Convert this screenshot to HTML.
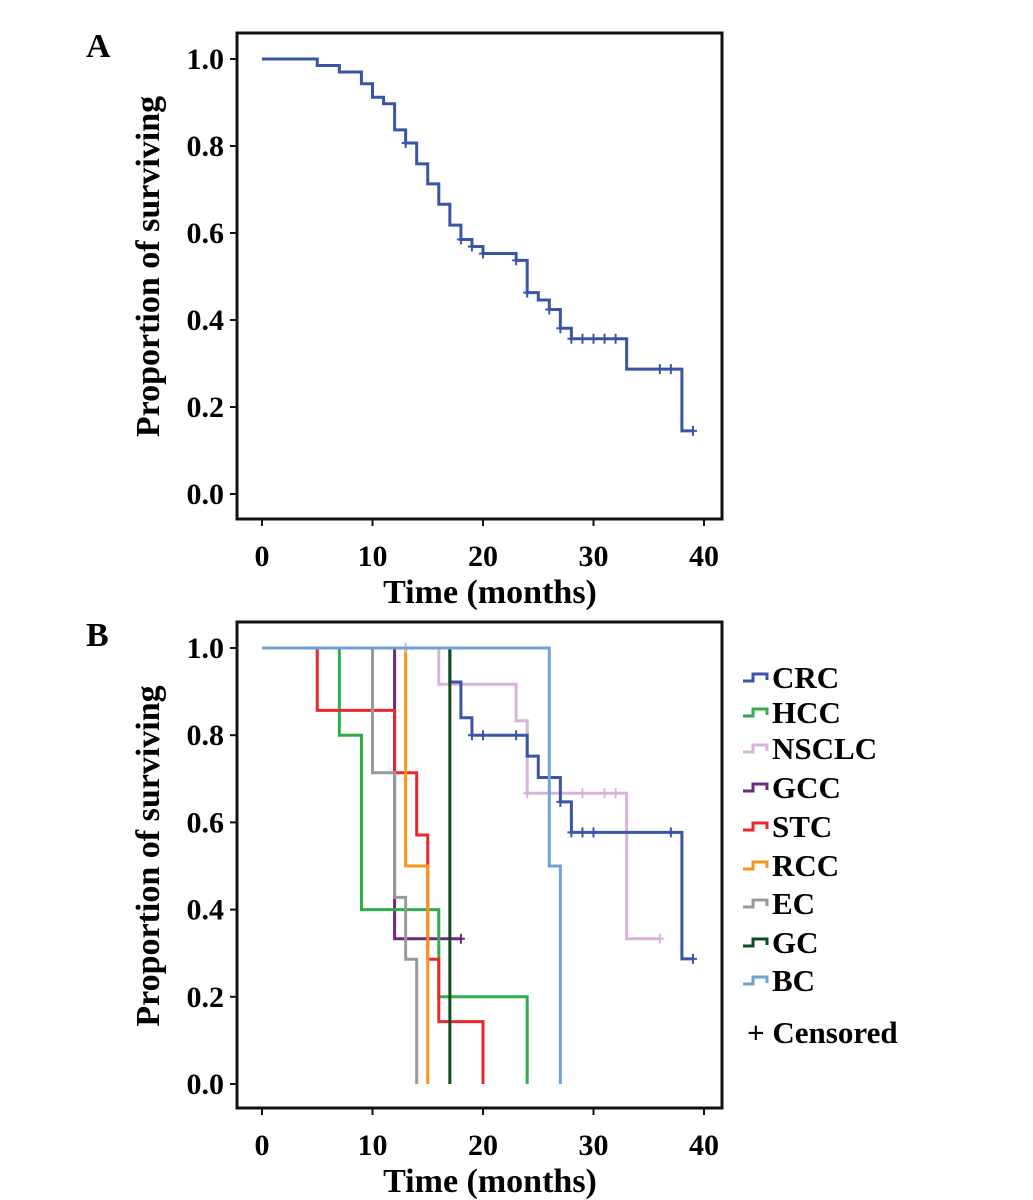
<!DOCTYPE html>
<html><head><meta charset="utf-8"><style>
html,body{margin:0;padding:0;background:#fff;}
svg{display:block;font-family:"Liberation Serif",serif;font-weight:bold;}
</style></head><body>
<svg id="chart" width="1033" height="1200" viewBox="0 0 1033 1200" xmlns="http://www.w3.org/2000/svg"></svg>
<script>
// Panel A data
const aTimes=[0,5,7,9,10,11,12,13,14,15,16,17,18,19,20,23,24,25,26,27,28,33,38,39];
const aSurv=[1.0,0.985,0.97,0.943,0.912,0.897,0.837,0.807,0.759,0.713,0.666,0.618,0.585,0.569,0.553,0.537,0.463,0.446,0.424,0.381,0.357,0.287,0.145,0.145];
const aCensor=[13,18,19,20,23,24,26,27,28,29,30,31,32,36,37,39];
// Panel B data
const groups=["CRC","HCC","NSCLC","GCC","STC","RCC","EC","GC","BC"];
const colors=["#3a55a8","#2eae4a","#d8b4dc","#6e2a7e","#e8282c","#f7941d","#999999","#0b4d1f","#6fa3d8"];
const crcT=[0,17,18,19,24,25,27,28,38,39];
const crcS=[1,0.922,0.84,0.8,0.752,0.703,0.647,0.577,0.287,0.287];
const crcC=[19,20,23,27,28,29,30,37,39];
const hccT=[0,7,9,16,24];
const hccS=[1,0.8,0.4,0.2,0];
const hccC=[];
const nsT=[0,16,23,24,33,36];
const nsS=[1,0.917,0.833,0.667,0.333,0.333];
const nsC=[13,24,27,29,31,32,36];
const gccT=[0,12,18];
const gccS=[1,0.333,0.333];
const gccC=[18];
const stcT=[0,5,12,14,15,16,20];
const stcS=[1,0.857,0.714,0.571,0.286,0.143,0];
const stcC=[];
const rccT=[0,13,15];
const rccS=[1,0.5,0];
const rccC=[];
const ecT=[0,10,12,13,14];
const ecS=[1,0.714,0.428,0.286,0];
const ecC=[];
const gcT=[0,17];
const gcS=[1,0];
const gcC=[];
const bcT=[0,26,27];
const bcS=[1,0.5,0];
const bcC=[];
const xTicks=[0,10,20,30,40];
const yTicks=[0,0.2,0.4,0.6,0.8,1.0];
const yTickLabels=["0.0","0.2","0.4","0.6","0.8","1.0"];

const NS="http://www.w3.org/2000/svg";
const svg=document.getElementById('chart');
function el(tag,attrs,parent){const e=document.createElementNS(NS,tag);for(const k in attrs)e.setAttribute(k,attrs[k]);(parent||svg).appendChild(e);return e;}
const xs=t=>262+11.05*t;

function panel(top,y0,y1,label,name){
  const ys=v=>y0-(y0-y1)*v;
  const g=el('g',{});
  
  
  const box=el('rect',{x:237,y:top,width:485,height:486,fill:'none',stroke:'#111','stroke-width':3},g);
  
  
  xTicks.forEach(t=>{
    const ln=el('line',{x1:xs(t),x2:xs(t),y1:top+486,y2:top+493,stroke:'#111','stroke-width':2},g);
    
    
    const tx=el('text',{x:xs(t),y:top+533,'text-anchor':'middle','font-size':30},g);
    tx.textContent=t;
    
    
  });
  yTicks.forEach((v,i)=>{
    const ln=el('line',{x1:230,x2:237,y1:ys(v),y2:ys(v),stroke:'#111','stroke-width':2},g);
    
    
    const tx=el('text',{x:224,y:ys(v)+10,'text-anchor':'end','font-size':30},g);
    tx.textContent=yTickLabels[i];
    
    
  });
  const xt=el('text',{x:490,y:top+570,'text-anchor':'middle','font-size':34},g);
  xt.textContent='Time (months)';
  
  
  const yt=el('text',{x:0,y:0,'text-anchor':'middle','font-size':34,transform:`translate(159,${(y0+y1)/2-10}) rotate(-90)`},g);
  yt.textContent='Proportion of surviving';
  
  
  const pl=el('text',{x:86,y:top+24,'font-size':34},g);
  pl.textContent=label;
  
  
  return ys;
}
function curve(T,S,C,color,ys,name){
  let d=`M${xs(T[0])},${ys(S[0])}`;
  for(let i=1;i<T.length;i++){d+=` H${xs(T[i])} V${ys(S[i])}`;}
  const p=el('path',{d:d,fill:'none',stroke:color,'stroke-width':3});
  
  
  C.forEach(c=>{
    let v=S[0];for(let i=0;i<T.length;i++){if(T[i]<=c)v=S[i];}
    const m=el('path',{d:`M${xs(c)-4},${ys(v)} H${xs(c)+4} M${xs(c)},${ys(v)-5} V${ys(v)+5}`,stroke:color,'stroke-width':2});
    
    
  });
}
const ysA=panel(33,494,59,'A','panel-a');
curve(aTimes,aSurv,aCensor,'#3a55a8',ysA,'overall-survival-curve');
const ysB=panel(622,1084,648,'B','panel-b');
const bT=[crcT,hccT,nsT,gccT,stcT,rccT,ecT,gcT,bcT];
const bS=[crcS,hccS,nsS,gccS,stcS,rccS,ecS,gcS,bcS];
const bC=[crcC,hccC,nsC,gccC,stcC,rccC,ecC,gcC,bcC];
const order=[3,1,4,6,5,2,0,7,8];
order.forEach(i=>curve(bT[i],bS[i],bC[i],colors[i],ysB,groups[i].toLowerCase()+'-curve'));
// legend
const legY=[677,712,748,787,826,865,903,942,980];
groups.forEach((g,i)=>{
  const y=legY[i];
  const ic=el('path',{d:`M743,${y+4} H753 V${y-3} H767 V${y+3}`,fill:'none',stroke:colors[i],'stroke-width':3});
  
  
  const t=el('text',{x:772,y:y+11,'font-size':31});
  t.textContent=g;
  
  
});
const ct=el('text',{x:747,y:1043,'font-size':31});
ct.textContent='+ Censored';


</script>
</body></html>
